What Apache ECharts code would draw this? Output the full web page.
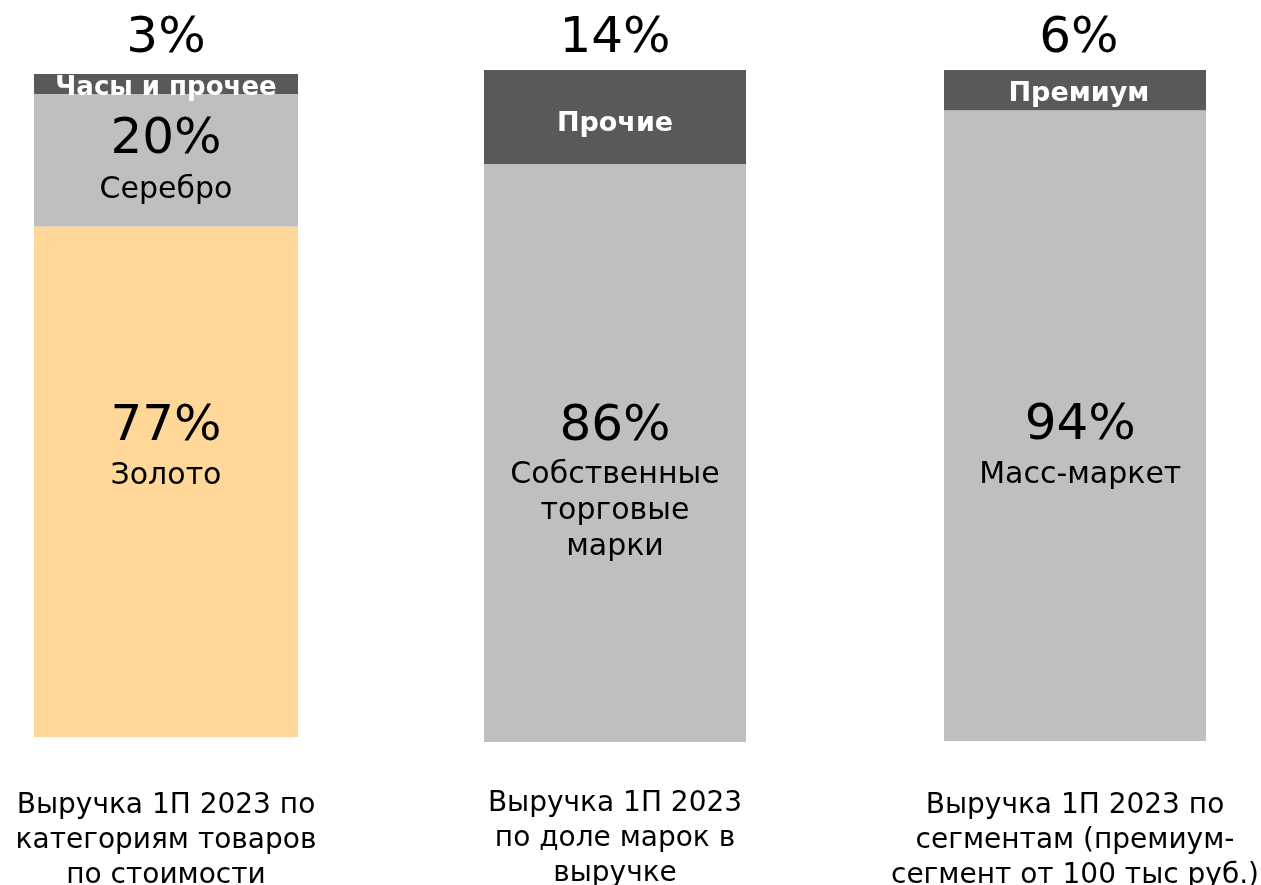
<!DOCTYPE html>
<html>
<head>
<meta charset="utf-8">
<script src="https://cdn.jsdelivr.net/npm/echarts@6/dist/echarts.min.js"></script>
<style>
  html, body { margin: 0; padding: 0; background: #fff; }
  #main { width: 1261px; height: 885px; }
</style>
</head>
<body>
<div id="main"></div>
<script>
const captions = [
  'Выручка 1П 2023 по\nкатегориям товаров\nпо стоимости',
  'Выручка 1П 2023\nпо доле марок в\nвыручке',
  'Выручка 1П 2023 по\nсегментам (премиум-\nсегмент от 100 тыс руб.)',
]
const metalNames = ['Золото', 'Серебро', 'Часы и прочее']
const metalShares = [77, 20, 3]
const brandNames = ['Собственные\nторговые\nмарки', 'Прочие']
const brandShares = [86, 14]
const segmentNames = ['Масс-маркет', 'Премиум']
const segmentShares = [94, 6]

const GOLD = '#FED799'
const LIGHT = '#BFBFBF'
const DARK = '#595959'
const FONT = 'DejaVu Sans'

const fmt = (p) => `{pct|${p.value}%}\n{name|${p.seriesName}}`

// label block for a segment: pct line + name line(s)
const segLabel = (y, nameLH, nameColor = '#000', bold = false, nameSize = 30, x = '50%') => ({
  show: true,
  position: [x, y + 4],
  align: 'center',
  verticalAlign: 'top',
  formatter: fmt,
  rich: {
    pct: { fontSize: 50, lineHeight: 60, color: '#000', fontFamily: FONT },
    name: {
      fontSize: nameSize,
      lineHeight: nameLH,
      color: nameColor,
      fontWeight: bold ? 'bold' : 'normal',
      fontFamily: FONT,
    },
  },
})

const grids = [
  { left: 34, width: 264, top: 74, height: 663, outerBoundsMode: 'none', containLabel: false },
  { left: 484, width: 262, top: 70, height: 672, outerBoundsMode: 'none', containLabel: false },
  { left: 944, width: 262, top: 70, height: 671, outerBoundsMode: 'none', containLabel: false },
]
const captionMargin = [51, 44, 47]

const bar = (gi, name, value, color, label) => ({
  type: 'bar',
  name,
  xAxisIndex: gi,
  yAxisIndex: gi,
  stack: 'g' + gi,
  barWidth: '100%',
  data: [value],
  itemStyle: { color },
  label,
  silent: true,
})

const chart = echarts.init(document.getElementById('main'), null, { renderer: 'canvas' })
chart.setOption({
  backgroundColor: '#fff',
  animation: false,
  textStyle: { fontFamily: FONT },
  grid: grids,
  xAxis: grids.map((g, i) => ({
    type: 'category',
    gridIndex: i,
    data: [captions[i]],
    axisLine: { show: false },
    axisTick: { show: false },
    axisLabel: {
      margin: captionMargin[i],
      fontSize: 28,
      lineHeight: 35,
      color: '#000',
      fontFamily: FONT,
      interval: 0,
    },
  })),
  yAxis: grids.map((g, i) => ({
    type: 'value',
    gridIndex: i,
    min: 0,
    max: 100,
    show: false,
  })),
  series: [
    bar(0, metalNames[0], metalShares[0], GOLD, segLabel(167, 38)),
    bar(0, metalNames[1], metalShares[1], LIGHT, segLabel(12, 40)),
    bar(0, metalNames[2], metalShares[2], DARK, segLabel(-69, 38, '#fff', true, 26)),
    bar(1, brandNames[0], brandShares[0], LIGHT, segLabel(229, 36)),
    bar(1, brandNames[1], brandShares[1], DARK, segLabel(-65, 110, '#fff', true, 27)),
    bar(2, segmentNames[0], segmentShares[0], LIGHT, segLabel(282, 38, '#000', false, 30, '52%')),
    bar(2, segmentNames[1], segmentShares[1], DARK, segLabel(-65, 50, '#fff', true, 27, '51.5%')),
  ],
})
</script>
</body>
</html>
